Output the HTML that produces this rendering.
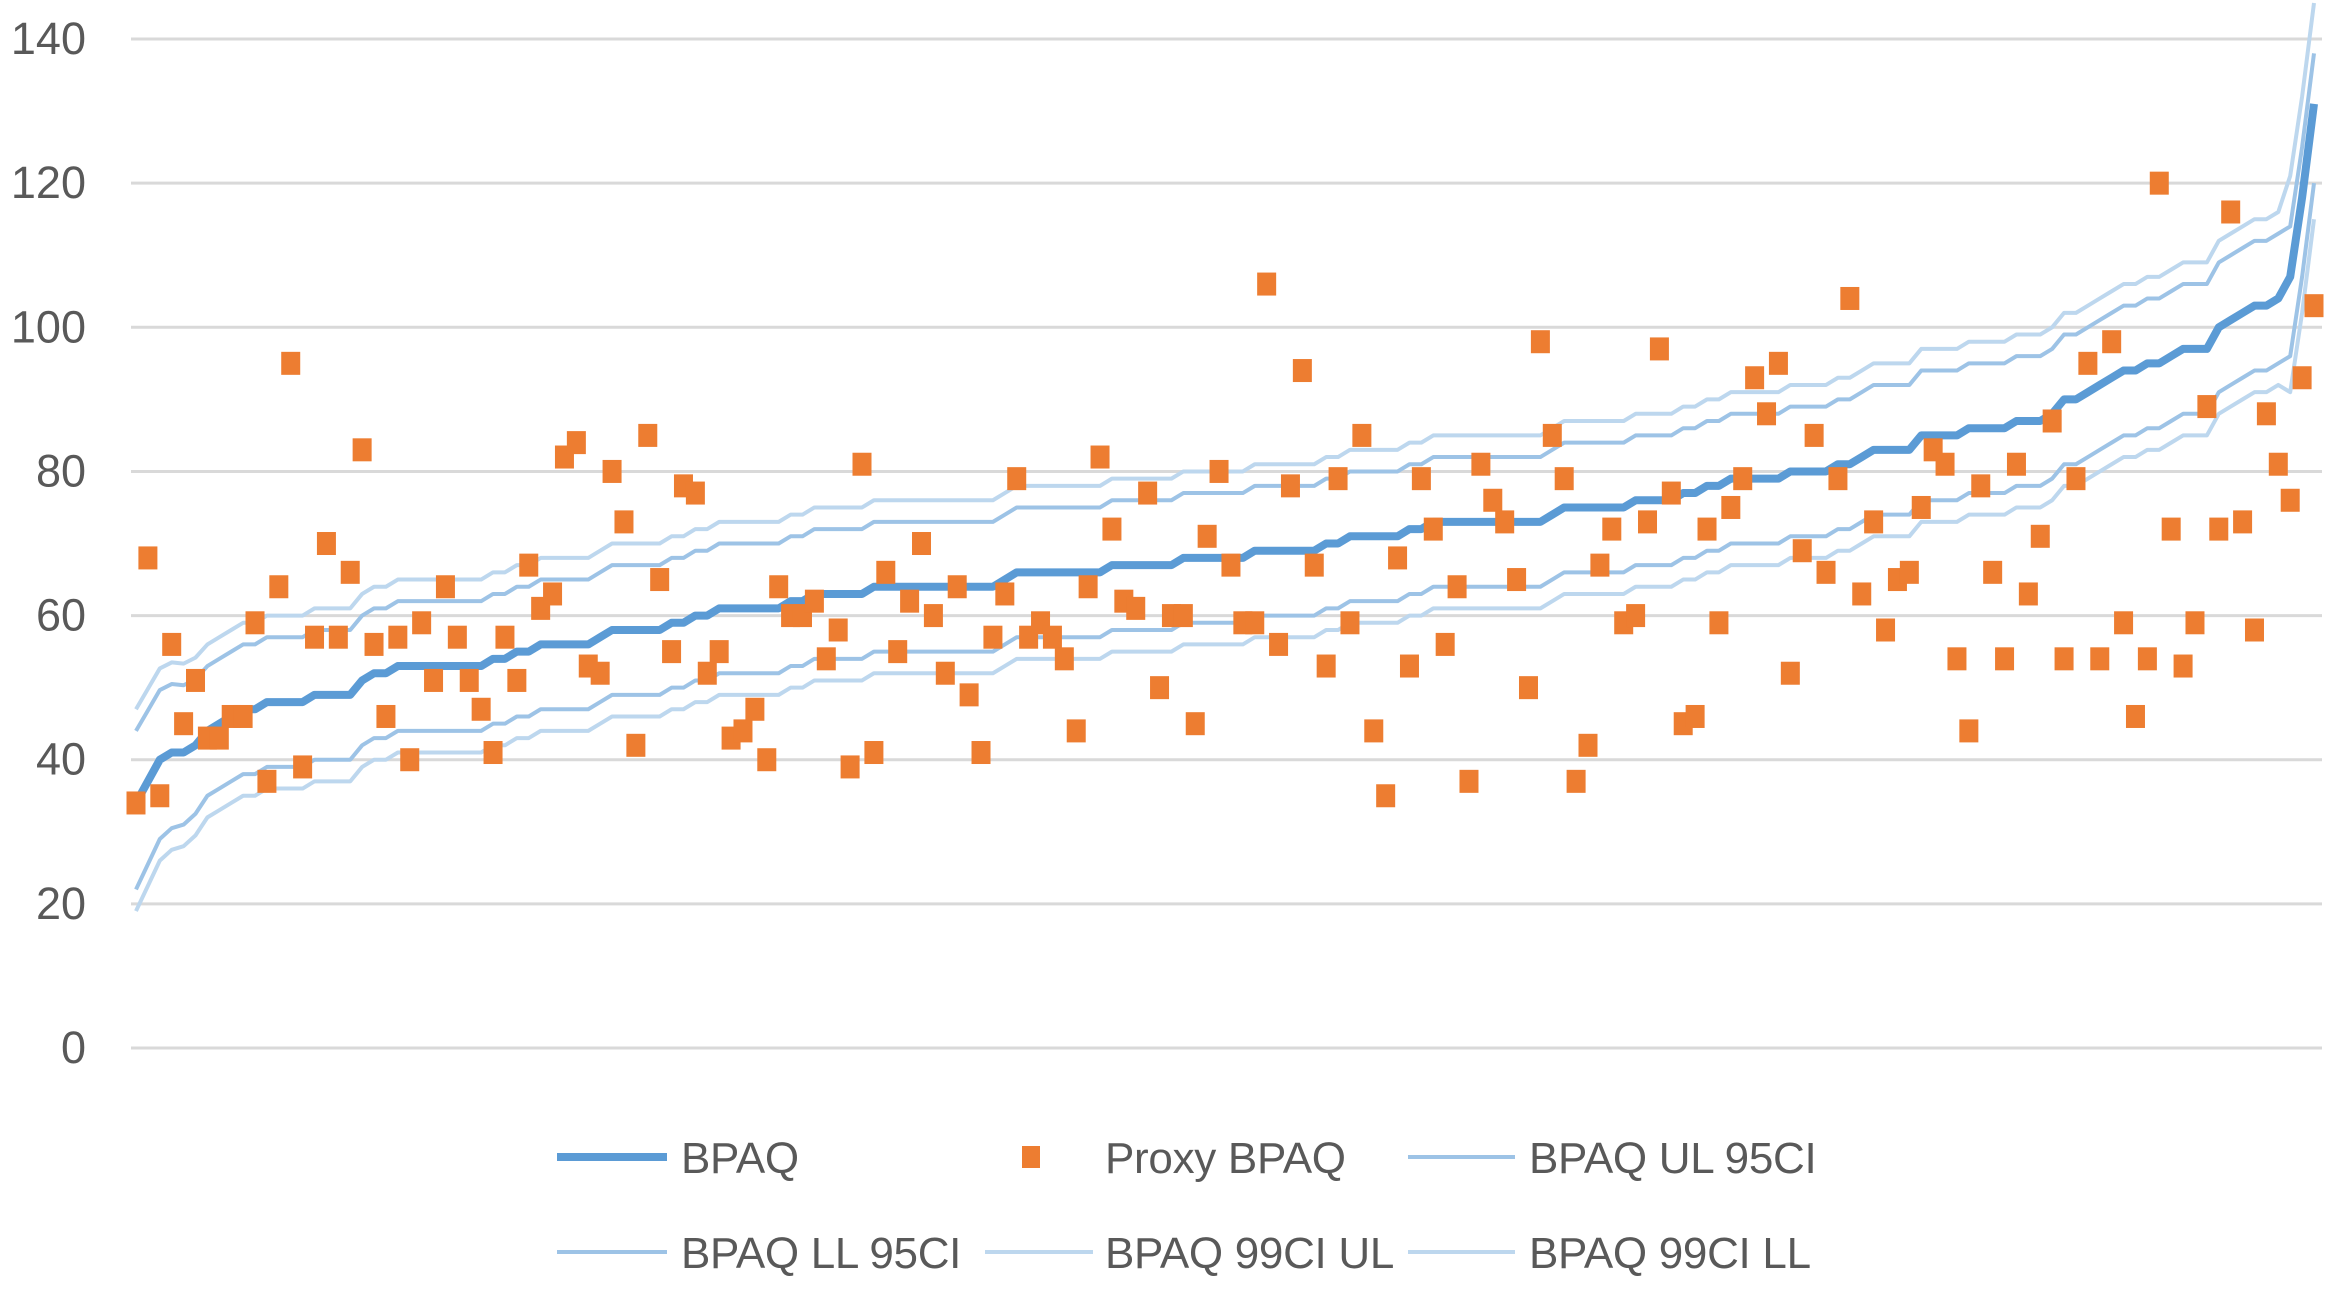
<!DOCTYPE html>
<html><head><meta charset="utf-8"><style>
html,body{margin:0;padding:0;background:#fff;}
svg{display:block;font-family:"Liberation Sans",Arial,sans-serif;}
</style></head><body>
<svg id="chart" width="2341" height="1289" viewBox="0 0 2341 1289">
<g id="grid"></g>
<g id="yticks"></g>
<g id="series"></g>
<g id="legend">
  <g>
    <line x1="557" y1="1157" x2="667" y2="1157" stroke="#5B9BD5" stroke-width="8"/>
    <text x="681" y="1173" font-size="44" fill="#595959" letter-spacing="-0.3">BPAQ</text>
  </g>
  <g>
    <rect x="1022" y="1146" width="18" height="22" fill="#ED7D31"/>
    <text x="1105" y="1173" font-size="44" fill="#595959" letter-spacing="-0.3">Proxy BPAQ</text>
  </g>
  <g>
    <line x1="1408" y1="1157" x2="1515" y2="1157" stroke="#9DC3E6" stroke-width="4"/>
    <text x="1529" y="1173" font-size="44" fill="#595959" letter-spacing="-0.3">BPAQ UL 95CI</text>
  </g>
  <g>
    <line x1="557" y1="1252" x2="667" y2="1252" stroke="#9DC3E6" stroke-width="4"/>
    <text x="681" y="1268" font-size="44" fill="#595959" letter-spacing="-0.3">BPAQ LL 95CI</text>
  </g>
  <g>
    <line x1="985" y1="1252" x2="1093" y2="1252" stroke="#BDD7EE" stroke-width="4"/>
    <text x="1105" y="1268" font-size="44" fill="#595959" letter-spacing="-0.3">BPAQ 99CI UL</text>
  </g>
  <g>
    <line x1="1408" y1="1252" x2="1515" y2="1252" stroke="#BDD7EE" stroke-width="4"/>
    <text x="1529" y="1268" font-size="44" fill="#595959" letter-spacing="-0.3">BPAQ 99CI LL</text>
  </g>
</g>
</svg>
<script>
const yTicks = [0,20,40,60,80,100,120,140];
const bpaq = [34,37,40,41,41,42,44,45,46,47,47,48,48,48,48,49,49,49,49,51,52,52,53,53,53,53,53,53,53,53,54,54,55,55,56,56,56,56,56,57,58,58,58,58,58,59,59,60,60,61,61,61,61,61,61,62,62,63,63,63,63,63,64,64,64,64,64,64,64,64,64,64,64,65,66,66,66,66,66,66,66,66,67,67,67,67,67,67,68,68,68,68,68,68,69,69,69,69,69,69,70,70,71,71,71,71,71,72,72,73,73,73,73,73,73,73,73,73,73,74,75,75,75,75,75,75,76,76,76,76,77,77,78,78,79,79,79,79,79,80,80,80,80,81,81,82,83,83,83,83,85,85,85,85,86,86,86,86,87,87,87,88,90,90,91,92,93,94,94,95,95,96,97,97,97,100,101,102,103,103,104,107,118,131];
const proxy = [34,68,35,56,45,51,43,43,46,46,59,37,64,95,39,57,70,57,66,83,56,46,57,40,59,51,64,57,51,47,41,57,51,67,61,63,82,84,53,52,80,73,42,85,65,55,78,77,52,55,43,44,47,40,64,60,60,62,54,58,39,81,41,66,55,62,70,60,52,64,49,41,57,63,79,57,59,57,54,44,64,82,72,62,61,77,50,60,60,45,71,80,67,59,59,106,56,78,94,67,53,79,59,85,44,35,68,53,79,72,56,64,37,81,76,73,65,50,98,85,79,37,42,67,72,59,60,73,97,77,45,46,72,59,75,79,93,88,95,52,69,85,66,79,104,63,73,58,65,66,75,83,81,54,44,78,66,54,81,63,71,87,54,79,95,54,98,59,46,54,120,72,53,59,89,72,116,73,58,88,81,76,93,103];
const ciNames = ["ul99","ul95","ll95","ll99"];
const ciStartOffsets = [13,10,-12,-15];
const ciMidOffsets = [12,9,-9,-12];
const ciEndOffsets = [14,7,-11,-16];

const NS="http://www.w3.org/2000/svg";
const X0=136, X1=2314, Y0=1048, PX=7.207;
function yS(v){return Y0 - v*PX;}
function xS(i,n){return X0 + i*(X1-X0)/(n-1);}
function mk(tag,attrs,parent){const e=document.createElementNS(NS,tag);for(const k in attrs)e.setAttribute(k,attrs[k]);parent.appendChild(e);return e;}

const grid=document.getElementById('grid'), yt=document.getElementById('yticks'), ser=document.getElementById('series');
yTicks.forEach(t=>{
  const l=mk('line',{x1:131,x2:2322,y1:yS(t),y2:yS(t),stroke:'#D9D9D9','stroke-width':3},grid);
  
  
  const tx=mk('text',{x:86,y:yS(t)+15,'text-anchor':'end','font-size':45,fill:'#595959'},yt);
  tx.textContent=t;
  
  
});

function offsetFor(k,i,n){
  if(i<6) return ciStartOffsets[k]+(ciMidOffsets[k]-ciStartOffsets[k])*i/6;
  if(i>n-4) return ciEndOffsets[k];
  return ciMidOffsets[k];
}
const ciColors={ul99:'#BDD7EE',ll99:'#BDD7EE',ul95:'#9DC3E6',ll95:'#9DC3E6'};
ciNames.forEach((nm,k)=>{
  const n=bpaq.length;
  const pts=bpaq.map((v,i)=>xS(i,n)+','+yS(v+offsetFor(k,i,n))).join(' ');
  const p=mk('polyline',{points:pts,fill:'none',stroke:ciColors[nm],'stroke-width':4,'stroke-linejoin':'round'},ser);
  
  
});
{
  const n=bpaq.length;
  const pts=bpaq.map((v,i)=>xS(i,n)+','+yS(v)).join(' ');
  const p=mk('polyline',{points:pts,fill:'none',stroke:'#5B9BD5','stroke-width':8,'stroke-linejoin':'round'},ser);
  
  
}
proxy.forEach((v,i)=>{
  const n=proxy.length;
  const r=mk('rect',{x:xS(i,n)-9.5,y:yS(v)-11.5,width:19,height:23,fill:'#ED7D31'},ser);
  
  
});
</script>
</body></html>
